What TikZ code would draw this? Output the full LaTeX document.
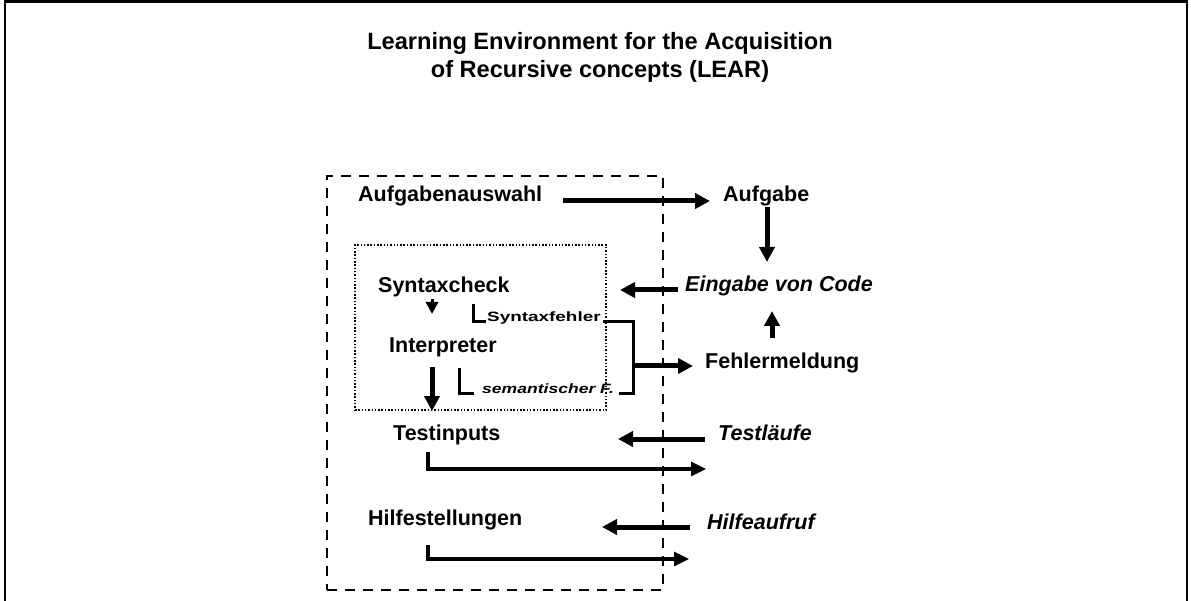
\documentclass[tikz,border=0pt]{standalone}
\usepackage{fontspec}
\setmainfont{Liberation Sans}
\usetikzlibrary{calc,arrows.meta}
\begin{document}
\begin{tikzpicture}[x=1pt,y=-1pt,
  lbl/.style={inner sep=0pt,anchor=base west,font=\fontsize{21.5}{24}\selectfont\bfseries},
  lbli/.style={lbl,font=\fontsize{21.5}{24}\selectfont\bfseries\itshape},
  big/.style={line width=5pt,-{Triangle[length=15pt,width=15pt]}},
  lconn/.style={line width=3.2pt,-{Triangle[length=15pt,width=14pt]}},
  lmark/.style={line width=3pt},
  smallarr/.style={line width=3pt,-{Triangle[length=12pt,width=12pt]}},
]
\useasboundingbox (0,0) rectangle (1191,601);
% outer frame
\draw[line width=2.5pt] (5,605) -- (5,1.5) -- (1187,1.5) -- (1187,605);
% title
\node[inner sep=0pt,align=center,font=\fontsize{23.6}{28}\selectfont\bfseries] (title) at (600,57)
  {Learning Environment for the Acquisition\\of Recursive concepts (LEAR)};
% boxes
\node[draw,line width=1.8pt,dash pattern=on 10pt off 8pt,minimum width=336pt,minimum height=414pt,inner sep=0pt] (dashbox) at (495,383) {};
\node[draw,line width=1.3pt,dash pattern=on 1.5pt off 1.8pt,minimum width=251pt,minimum height=165pt,inner sep=0pt] (dotbox) at (480.5,327.5) {};
% texts
\node[lbl] (auswahl) at (358,202) {Aufgabenauswahl};
\node[lbl] (aufgabe) at (723,202) {Aufgabe};
\node[lbl] (syntax) at (378,293) {Syntaxcheck};
\node[lbli] (eingabe) at (685,292) {Eingabe von Code};
\node[inner sep=0pt,anchor=base west] (sfehler) at (487,322) {\scalebox{1.4}[1]{\fontsize{13.5}{15}\selectfont\bfseries Syntaxfehler}};
\node[lbl] (interp) at (389,353) {Interpreter};
\node[inner sep=0pt,anchor=base west] (sem) at (482,393) {\scalebox{1.3}[1]{\fontsize{13.5}{15}\selectfont\bfseries\itshape semantischer F.}};
\node[lbl] (fehler) at (705,369) {Fehlermeldung};
\node[lbl] (testin) at (393,440) {Testinputs};
\node[lbli] (testl) at (718,440) {Testläufe};
\node[lbl] (hilfe) at (368,525) {Hilfestellungen};
\node[lbli] (aufruf) at (707,529) {Hilfeaufruf};
% connectors
\draw[big] ($(auswahl.base west)+(205,-1)$) -- ($(aufgabe.base west)+(-13,-1)$);
\draw[big] ($(aufgabe.base west)+(44,5)$) -- ($(eingabe.base west)+(82,-30)$);
\draw[big] ($(eingabe.base west)+(-7,-2)$) -- ($(syntax.base west)+(242,-3)$);
\draw[smallarr] ($(syntax.base west)+(54,6)$) -- ($(interp.base west)+(43,-39)$);
\draw[lmark] ($(sfehler.base west)+(-14,-18)$) -- ($(sfehler.base west)+(-14,0)$) -- ($(sfehler.base west)+(-1,0)$);
\draw[lmark] ($(sem.base west)+(-23,-25)$) -- ($(sem.base west)+(-23,0)$) -- ($(sem.base west)+(-8,0)$);
\coordinate (br1) at ($(sfehler.base west)+(116,0)$);
\coordinate (br2) at ($(sem.base west)+(137,0)$);
\coordinate (brm) at ($(fehler.base west)+(-72,-3)$);
\draw[line width=3pt] (br1) -- ++(30,0) |- (br2);
\draw[big] (brm) -- ($(fehler.base west)+(-12,-3)$);
\draw[big] ($(fehler.base west)+(67,-31)$) -- ($(eingabe.base west)+(87,19)$);
\draw[big] ($(interp.base west)+(43,14)$) -- ($(testin.base west)+(39,-29)$);
\draw[big] ($(testl.base west)+(-13,-1)$) -- ($(testin.base west)+(225,-1)$);
\draw[lconn] ($(testin.base west)+(35,12)$) |- ($(testl.base west)+(-12,29)$);
\draw[big] ($(aufruf.base west)+(-17,-2)$) -- ($(hilfe.base west)+(234,2)$);
\draw[lconn] ($(hilfe.base west)+(60,20)$) |- ($(aufruf.base west)+(-18,30)$);
\end{tikzpicture}
\end{document}
